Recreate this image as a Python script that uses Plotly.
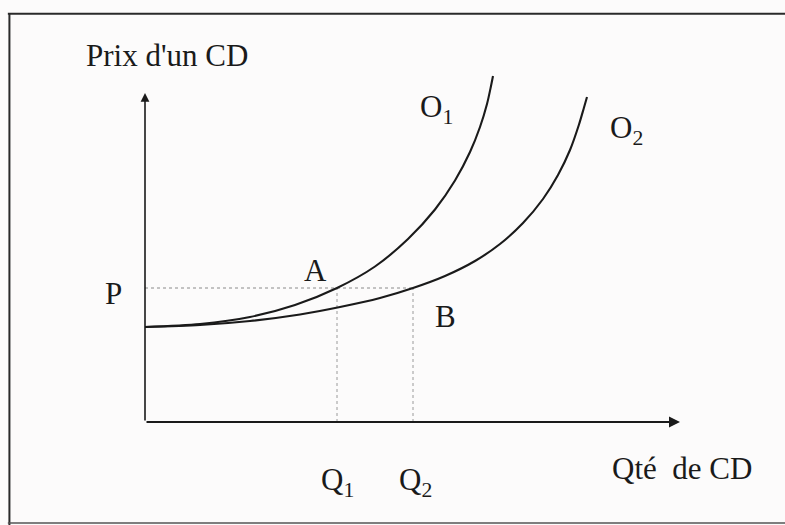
import plotly.graph_objects as go

# Courbes d'offre de CD : quantité (x) et prix (y)
o1_qte = [0, 1.1, 2.1, 3.0, 3.84, 4.6, 5.26, 5.8, 6.2, 6.5, 6.7, 6.84, 6.92, 6.96]
o1_prix = [1.9, 1.96, 2.1, 2.34, 2.68, 3.11, 3.66, 4.25, 4.83, 5.4, 5.9, 6.36, 6.72, 6.92]

o2_qte = [0, 1.1, 2.1, 3.1, 3.9, 4.7, 5.36, 6.0, 6.6, 7.1, 7.56, 7.96, 8.26, 8.5, 8.68,
          8.78, 8.84]
o2_prix = [1.9, 1.94, 2.02, 2.15, 2.3, 2.48, 2.68, 2.92, 3.22, 3.56, 3.98, 4.46, 4.94, 5.44,
           5.95, 6.29, 6.5]

# Prix de marché et quantités offertes à ce prix
prix_p = 2.68
q1 = 3.84
q2 = 5.36

# Extrémités des axes
x_max = 10.7
y_max = 6.58

FONT = "Times New Roman, Liberation Serif, DejaVu Serif, serif"
INK = "#1a1a1a"

fig = go.Figure()

# Pointillés de repérage
fig.add_trace(go.Scatter(x=[0, q2], y=[prix_p, prix_p], mode="lines",
                         line=dict(color="#8a8a8a", width=1, dash="dot"),
                         hoverinfo="skip"))
for q in (q1, q2):
    fig.add_trace(go.Scatter(x=[q, q], y=[0, prix_p], mode="lines",
                             line=dict(color="#9a9a9a", width=1, dash="dot"),
                             hoverinfo="skip"))

# Courbes O1 et O2
for xs, ys in ((o1_qte, o1_prix), (o2_qte, o2_prix)):
    fig.add_trace(go.Scatter(x=xs, y=ys, mode="lines",
                             line=dict(color=INK, width=2.1, shape="spline", smoothing=0.8),
                             hoverinfo="skip"))

# Axes avec flèches
fig.add_annotation(x=x_max, y=0, ax=0, ay=0, xref="x", yref="y", axref="x", ayref="y",
                   text="", showarrow=True, arrowhead=2, arrowsize=1.1,
                   arrowwidth=2, arrowcolor=INK)
fig.add_annotation(x=0, y=y_max, ax=0, ay=0, xref="x", yref="y", axref="x", ayref="y",
                   text="", showarrow=True, arrowhead=2, arrowsize=1.1,
                   arrowwidth=1.6, arrowcolor=INK)

def label(x, y, text, dx=0, dy=0, size=31):
    fig.add_annotation(x=x, y=y, text=text, showarrow=False, xshift=dx, yshift=dy,
                       font=dict(family=FONT, size=size, color=INK))

label(0, y_max, "Prix d'un CD", dx=22, dy=38)
label(x_max, 0, "Qté  de CD", dx=2, dy=-46)
label(0, prix_p, "P", dx=-32, dy=-5)
label(q1, prix_p, "A", dx=-22, dy=18)
label(q2, prix_p, "B", dx=32, dy=-28)
label(q1, 0, "Q<sub>1</sub>", dx=0, dy=-60)
label(q2, 0, "Q<sub>2</sub>", dx=2, dy=-60)
label(o1_qte[-1], o1_prix[-1], "O<sub>1</sub>", dx=-57, dy=-33)
label(o2_qte[-1], o2_prix[-1], "O<sub>2</sub>", dx=39, dy=-33)

# Cadre de la figure
frame = dict(color="#2a2a2a", width=2)
fig.add_shape(type="line", xref="paper", yref="paper", x0=0.010, x1=1, y0=0.974, y1=0.974, line=frame)
fig.add_shape(type="line", xref="paper", yref="paper", x0=0.012, x1=0.012, y0=0, y1=0.974, line=frame)
fig.add_shape(type="line", xref="paper", yref="paper", x0=0.010, x1=1, y0=0.004, y1=0.004,
              line=dict(color="#555555", width=1.5))

fig.update_xaxes(range=[-2.9, 12.8], visible=False, fixedrange=True)
fig.update_yaxes(range=[-2.06, 8.44], visible=False, fixedrange=True)
fig.update_layout(width=785, height=525, margin=dict(l=0, r=0, t=0, b=0),
                  showlegend=False, plot_bgcolor="#fcfbfb", paper_bgcolor="#fcfbfb")

fig.write_html("out.html")
